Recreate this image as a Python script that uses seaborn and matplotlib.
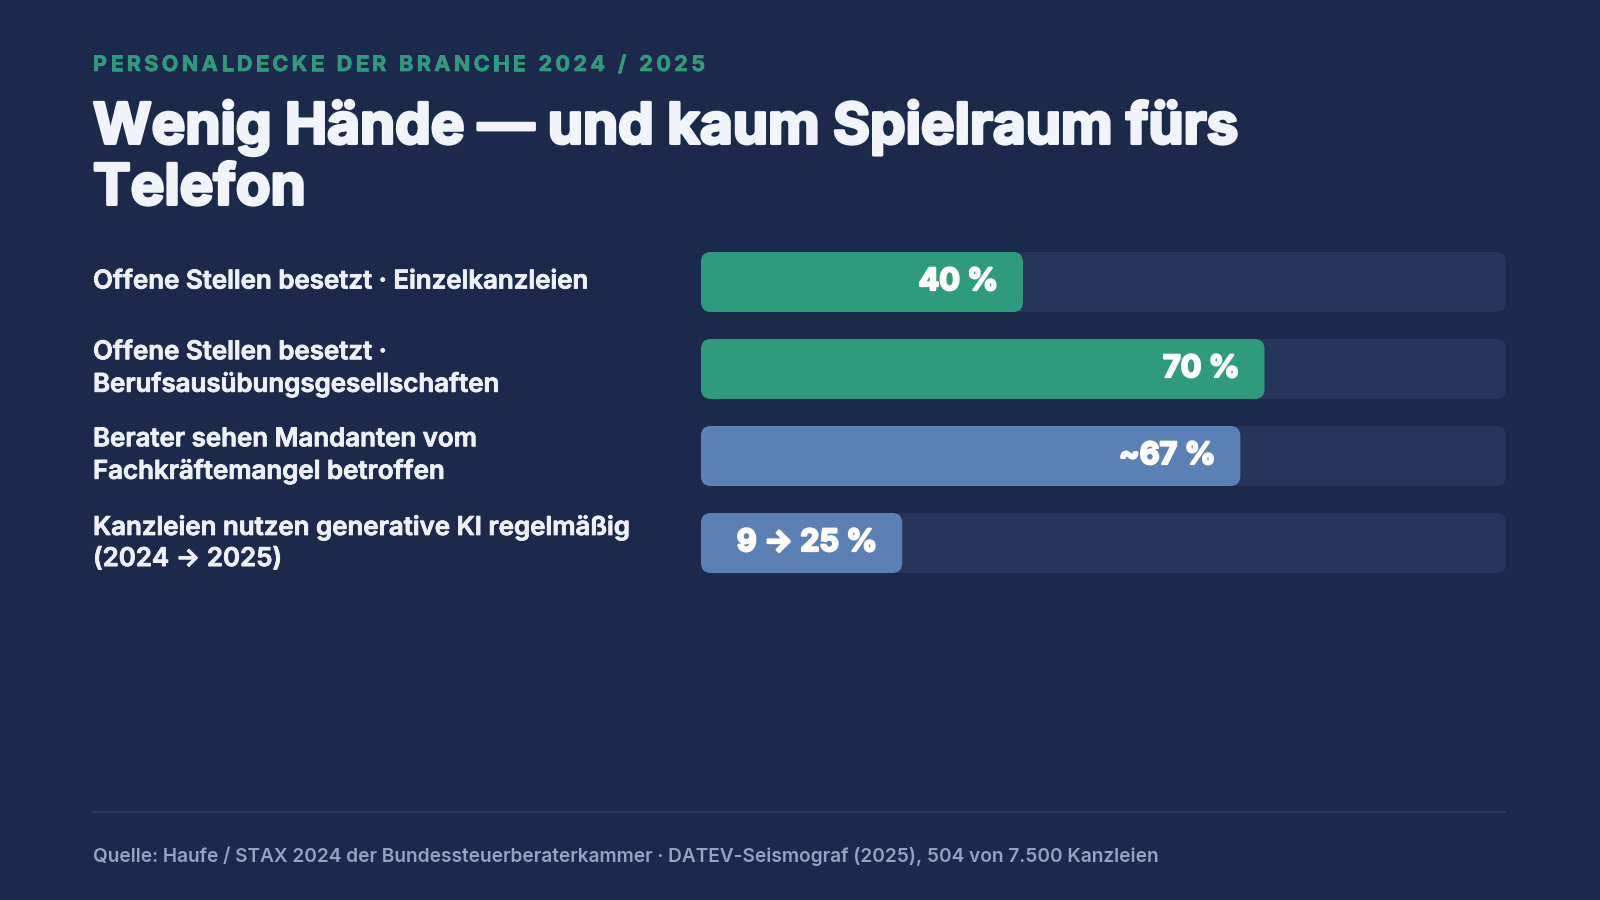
import matplotlib
matplotlib.use("Agg")
import matplotlib.pyplot as plt
import matplotlib.transforms as mtransforms
import matplotlib.patheffects as pe
from matplotlib.patches import FancyBboxPatch
import seaborn as sns
import pandas as pd

# ---- data ----
categories = [
    "Offene Stellen besetzt · Einzelkanzleien",
    "Offene Stellen besetzt ·\nBerufsausübungsgesellschaften",
    "Berater sehen Mandanten vom\nFachkräftemangel betroffen",
    "Kanzleien nutzen generative KI regelmäßig\n(2024 → 2025)",
]
values = [40, 70, 67, 25]
value_labels = ["40 %", "70 %", "~67 %", "9 → 25 %"]
bar_colors = ["#2e9c7c", "#2e9c7c", "#5b80b4", "#5b80b4"]
track_max = [100, 100, 100, 100]

kicker = "PERSONALDECKE DER BRANCHE 2024 / 2025"
title_lines = ["Wenig Hände — und kaum Spielraum fürs", "Telefon"]
source = "Quelle: Haufe / STAX 2024 der Bundessteuerberaterkammer · DATEV-Seismograf (2025), 504 von 7.500 Kanzleien"

BG = "#1b2a4a"
TRACK = "#26365a"
FONT = ["Inter", "DejaVu Sans"]

sns.set_theme(style="white")
plt.rcParams["font.family"] = FONT

W, H, DPI = 1600, 900, 100
fig = plt.figure(figsize=(W / DPI, H / DPI), dpi=DPI, facecolor=BG)
renderer = fig.canvas.get_renderer()

def fx(px):
    return px / W

def fy(py):
    return 1 - py / H

def fit_size(text, target_w, base=20, **kw):
    t = fig.text(0, 0, text, fontsize=base, **kw)
    w = t.get_window_extent(renderer).width
    t.remove()
    return base * target_w / w

def thick(color, lw):
    return [pe.withStroke(linewidth=lw, foreground=color)]

# ---- bars axes ----
x0, x1 = 701, 1506
c_top, c_bot = 282, 543
step = (c_bot - c_top) / 3
ax_top = c_top - step / 2
ax_bot = c_bot + step / 2
ax = fig.add_axes([fx(x0), fy(ax_bot), fx(x1) - fx(x0), (ax_bot - ax_top) / H])
ax.set_facecolor("none")

df = pd.DataFrame({"cat": categories, "value": values, "track": track_max})
bw = 60 / step
sns.barplot(data=df, y="cat", x="track", color=TRACK, width=bw, ax=ax, orient="h", saturation=1)
sns.barplot(data=df, y="cat", x="value", hue="cat", palette=bar_colors, width=bw, ax=ax,
            orient="h", saturation=1, legend=False)
ax.set_xlim(0, 100)
ax.set_ylim(3.5, -0.5)
ax.axis("off")

# replace rectangles with rounded boxes (pixel space)
fig.canvas.draw()
patches = list(ax.patches)
for k, p in enumerate(patches):
    bb = p.get_window_extent(renderer)
    fc = p.get_facecolor()
    p.remove()
    r = 10
    fb = FancyBboxPatch((bb.x0 + r, bb.y0 + r), bb.width - 2 * r, bb.height - 2 * r,
                        boxstyle=f"round,pad={r},rounding_size={r}",
                        transform=mtransforms.IdentityTransform(), facecolor=fc,
                        edgecolor="none", zorder=1 + k * 0.01, clip_on=False)
    ax.add_patch(fb)

# value labels
vsize = 22
for i, (v, lab) in enumerate(zip(values, value_labels)):
    ax.annotate(lab, xy=(v, i), xytext=(-25 * 72 / DPI, 0), textcoords="offset points",
                ha="right", va="center", color="white", fontsize=vsize, fontweight="bold",
                zorder=10, annotation_clip=False, path_effects=thick("white", 1.6))

# category labels
blend = mtransforms.blended_transform_factory(fig.transFigure, ax.transData)
lsize = fit_size(categories[0], 496, fontweight="semibold")
for i, cat in enumerate(categories):
    ax.text(fx(93), i, cat, transform=blend, ha="left", va="center", color="#eef2f8",
            fontsize=lsize, fontweight="semibold", linespacing=1.45,
            path_effects=thick("#eef2f8", 0.6))

# title
tsize = fit_size(title_lines[0], 1148, fontweight="bold")
for line, ypx in zip(title_lines, [122, 184]):
    fig.text(fx(93), fy(ypx), line, ha="left", va="center_baseline", color="#f1f5fb",
             fontsize=tsize, fontweight="bold", path_effects=thick("#f1f5fb", 2.2))

# kicker with letter spacing
ksize = 15.5
widths = []
for ch in kicker:
    t = fig.text(0, 0, ch if ch != " " else "n", fontsize=ksize, fontweight="bold")
    wch = t.get_window_extent(renderer).width
    if ch == " ":
        wch *= 0.45
    widths.append(wch)
    t.remove()
target = 705 - 93
gap = (target - sum(widths)) / (len(kicker) - 1)
xpos = 93
for ch, wch in zip(kicker, widths):
    if ch != " ":
        fig.text(fx(xpos), fy(63), ch, ha="left", va="center_baseline", color="#2e9c7c",
                 fontsize=ksize, fontweight="bold", path_effects=thick("#2e9c7c", 0.5))
    xpos += wch + gap

# separator
fig.add_artist(plt.Line2D([fx(93), fx(1506)], [fy(812), fy(812)], color="#2f3e60", lw=1.2))

# source
ssize = fit_size(source, 1067, fontweight="semibold")
fig.text(fx(93), fy(856), source, ha="left", va="center", color="#94a3c0",
         fontsize=ssize, fontweight="semibold")

fig.savefig("out.png", dpi=DPI, facecolor=BG)
